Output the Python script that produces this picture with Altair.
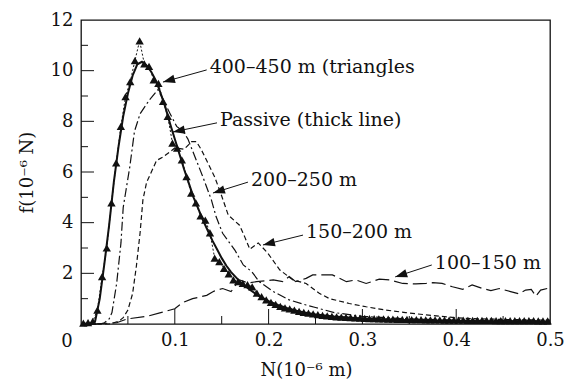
import math
import altair as alt
import pandas as pd

W, H = 469, 304
XMAX, YMAX = 0.5, 12
FONT = "DejaVu Serif"
INK = "#111111"

# 400–450 m (triangles), sampled every 0.005 starting at 0.0025
tri_f = [0.03, 0.05, 0.1, 0.55, 1.87, 3.0, 4.78, 6.36, 7.8, 8.98,
         9.57, 10.4, 11.18, 10.27, 10.17, 9.64, 9.5, 8.79, 8.2, 7.14,
         6.94, 6.48, 5.82, 5.17, 4.78, 4.27, 4.1, 3.6, 2.6, 2.46,
         2.2, 1.98, 1.74, 1.67, 1.6, 1.55, 1.47, 1.22, 1.08, 0.95,
         0.85, 0.77, 0.7, 0.64, 0.6, 0.55, 0.5, 0.46, 0.43, 0.4,
         0.37, 0.34, 0.32, 0.3, 0.28, 0.27, 0.26, 0.25, 0.24, 0.23,
         0.22, 0.21, 0.21, 0.2, 0.2, 0.19, 0.19, 0.18, 0.18, 0.18,
         0.17, 0.17, 0.17, 0.16, 0.16, 0.16, 0.16, 0.15, 0.15, 0.15,
         0.15, 0.15, 0.14, 0.14, 0.14, 0.14, 0.14, 0.14, 0.13, 0.13,
         0.13, 0.13, 0.13, 0.13, 0.13, 0.13, 0.13, 0.12, 0.12, 0.12]
tri_n = [round(0.0025 + 0.005 * i, 4) for i in range(len(tri_f))]

# Passive (thick line)
pas_n = [0.0, 0.01, 0.015, 0.02, 0.025, 0.03, 0.035, 0.04, 0.045, 0.05,
         0.055, 0.06, 0.065, 0.07, 0.075, 0.08, 0.085, 0.09, 0.095, 0.1,
         0.105, 0.11, 0.115, 0.12, 0.125, 0.13, 0.135, 0.14, 0.145, 0.15,
         0.155, 0.16, 0.165, 0.17, 0.18, 0.19, 0.2, 0.21, 0.22, 0.23,
         0.24, 0.25, 0.27, 0.3, 0.35, 0.4, 0.45, 0.5]
pas_f = [0.0, 0.02, 0.1, 1.0, 2.4, 3.9, 5.6, 7.0, 8.2, 9.1,
         9.8, 10.25, 10.35, 10.2, 9.95, 9.6, 9.1, 8.55, 7.9, 7.3,
         6.7, 6.1, 5.55, 5.0, 4.55, 4.1, 3.7, 3.3, 2.95, 2.6,
         2.3, 2.05, 1.85, 1.65, 1.35, 1.1, 0.9, 0.75, 0.62, 0.52,
         0.44, 0.38, 0.3, 0.22, 0.15, 0.12, 0.1, 0.09]

# 200–250 m (dash-dot)
dd_n = [0.0, 0.02, 0.025, 0.03, 0.033, 0.038, 0.0426, 0.045, 0.052, 0.057,
        0.063, 0.073, 0.082, 0.0876, 0.095, 0.102, 0.109, 0.114, 0.12, 0.13,
        0.139, 0.144, 0.151, 0.164, 0.173, 0.182, 0.19, 0.205, 0.222, 0.24,
        0.25, 0.27, 0.3, 0.35, 0.4, 0.45, 0.5]
dd_f = [0.0, 0.0, 0.05, 0.2, 0.45, 1.6, 3.2, 4.6, 6.2, 7.6,
        8.3, 8.85, 9.25, 8.85, 8.3, 7.8, 7.6, 7.3, 6.74, 5.8,
        4.9, 4.24, 3.58, 2.92, 2.33, 2.07, 1.67, 1.28, 0.95, 0.75,
        0.65, 0.45, 0.3, 0.2, 0.15, 0.13, 0.12]

# 150–200 m (short dashes)
sd_n = [0.0, 0.03, 0.04, 0.045, 0.05, 0.055, 0.059, 0.063, 0.066, 0.07,
        0.075, 0.0805, 0.0876, 0.095, 0.1, 0.11, 0.118, 0.123, 0.128, 0.134,
        0.1426, 0.15, 0.157, 0.163, 0.169, 0.175, 0.18, 0.189, 0.199, 0.212,
        0.226, 0.24, 0.254, 0.265, 0.286, 0.304, 0.325, 0.346, 0.368, 0.39,
        0.41, 0.45, 0.5]
sd_f = [0.0, 0.0, 0.1, 0.25, 0.55, 1.2, 2.27, 3.6, 4.9, 5.6,
        6.0, 6.45, 6.6, 6.8, 6.95, 6.9, 7.2, 7.2, 6.9, 6.45,
        5.8, 5.05, 4.3, 4.1, 3.9, 3.4, 2.95, 3.2, 2.8, 2.13,
        1.74, 1.6, 1.21, 1.0, 0.81, 0.68, 0.55, 0.45, 0.36, 0.28,
        0.22, 0.18, 0.15]

# 100–150 m (long dashes)
ld_n = [0.013, 0.038, 0.049, 0.07, 0.085, 0.1, 0.105, 0.11, 0.119, 0.127,
        0.134, 0.142, 0.151, 0.16, 0.169, 0.178, 0.187, 0.196, 0.205, 0.215,
        0.222, 0.229, 0.24, 0.247, 0.268, 0.283, 0.293, 0.304, 0.318, 0.329,
        0.343, 0.357, 0.368, 0.375, 0.385, 0.396, 0.407, 0.417, 0.428, 0.437,
        0.446, 0.458, 0.467, 0.474, 0.48, 0.485, 0.49, 0.497]
ld_f = [0.0, 0.05, 0.2, 0.3, 0.45, 0.6, 0.75, 0.87, 1.0, 1.07,
        1.13, 1.3, 1.4, 1.28, 1.74, 1.62, 1.67, 1.7, 1.74, 1.67,
        1.87, 1.67, 1.8, 1.94, 1.94, 1.67, 1.74, 1.6, 1.77, 1.74,
        1.6, 1.58, 1.6, 1.63, 1.6, 1.47, 1.37, 1.54, 1.4, 1.32,
        1.4, 1.28, 1.19, 1.34, 1.37, 1.1, 1.34, 1.4]

# annotations
ann_text = ["400–450 m (triangles", "Passive (thick line)", "200–250 m",
            "150–200 m", "100–150 m"]
ann_tail_n = [0.134, 0.145, 0.178, 0.2367, 0.374]
ann_tail_f = [10.03, 7.94, 5.6, 3.51, 2.33]
ann_tip_n = [0.0874, 0.098, 0.1407, 0.194, 0.335]
ann_tip_f = [9.55, 7.58, 5.17, 3.12, 1.86]
ann_text_f = [10.15, 8.05, 5.68, 3.63, 2.41]

y_major = [2, 4, 6, 8, 10]
y_minor = [1, 3, 5, 7, 9, 11]
x_major = [0.1, 0.2, 0.3, 0.4]
x_minor = [0.05, 0.15, 0.25, 0.35, 0.45]
x_labels = [0, 0.1, 0.2, 0.3, 0.4, 0.5]
y_labels = [2, 4, 6, 8, 10, 12]

xs = alt.Scale(domain=[0, XMAX], nice=False, zero=False)
ys = alt.Scale(domain=[0, YMAX], nice=False, zero=False)

x_axis = alt.Axis(values=x_labels, ticks=False, domain=False, grid=False,
                  labelExpr="datum.value == 0 ? '' : datum.label",
                  labelFont=FONT, labelFontSize=18, labelColor=INK,
                  labelPadding=7, labelFlush=False,
                  title="N(10⁻⁶ m)", titleFont=FONT, titleFontSize=18,
                  titleFontWeight="normal", titleColor=INK,
                  titleX=225, titleY=46, titleBaseline="middle", titleAlign="center")
y_axis = alt.Axis(values=y_labels, ticks=False, domain=False, grid=False,
                  labelFont=FONT, labelFontSize=18, labelColor=INK,
                  labelPadding=8,
                  title="f(10⁻⁶ N)", titleFont=FONT, titleFontSize=18,
                  titleFontWeight="normal", titleColor=INK,
                  titleX=-54, titleY=152, titleBaseline="middle", titleAlign="center")


def df(n, f):
    return pd.DataFrame({"n": n, "f": f})


def X(field="n"):
    return alt.X(f"{field}:Q", scale=xs, axis=x_axis)


def Y(field="f"):
    return alt.Y(f"{field}:Q", scale=ys, axis=y_axis)


passive = alt.Chart(df(pas_n, pas_f)).mark_line(color=INK, strokeWidth=2).encode(
    x=X(), y=Y())
tri_line = alt.Chart(df(tri_n, tri_f)).mark_line(
    color=INK, strokeWidth=1, strokeDash=[2, 2]).encode(x=X(), y=Y())
tri_pts = alt.Chart(df(tri_n, tri_f)).mark_point(
    shape="triangle-up", filled=True, color=INK, size=70, opacity=1).encode(x=X(), y=Y())
dd = alt.Chart(df(dd_n, dd_f)).mark_line(
    color=INK, strokeWidth=1.2, strokeDash=[9, 3, 2, 3]).encode(x=X(), y=Y())
sd = alt.Chart(df(sd_n, sd_f)).mark_line(
    color=INK, strokeWidth=1.2, strokeDash=[5, 3]).encode(x=X(), y=Y())
ld = alt.Chart(df(ld_n, ld_f)).mark_line(
    color=INK, strokeWidth=1.2, strokeDash=[14, 5]).encode(x=X(), y=Y())

# arrow geometry
angles = []
for tn, tf, hn, hf in zip(ann_tail_n, ann_tail_f, ann_tip_n, ann_tip_f):
    dx = (hn - tn) * W / XMAX
    dy = -(hf - tf) * H / YMAX
    theta = math.degrees(math.atan2(dy, -dx))
    angles.append((360 - theta) % 360)

ann = pd.DataFrame({"text": ann_text, "tn": ann_tail_n, "tf": ann_tail_f,
                    "hn": ann_tip_n, "hf": ann_tip_f, "yf": ann_text_f,
                    "ang": angles})

arrow_lines = alt.Chart(ann).mark_rule(color=INK, strokeWidth=1).encode(
    x=X("tn"), y=Y("tf"), x2="hn:Q", y2="hf:Q")
arrow_heads = alt.Chart(ann).mark_point(
    shape="M0,0L2,-0.7L2,0.7Z", filled=True, color=INK, size=144, opacity=1,
    strokeWidth=0).encode(
    x=X("hn"), y=Y("hf"), angle=alt.Angle("ang:Q", scale=None))
labels = alt.Chart(ann).mark_text(
    align="left", baseline="middle", dx=3, font=FONT, fontSize=19, color=INK).encode(
    x=X("tn"), y=Y("yf"), text="text:N")

# inward ticks
ymaj = alt.Chart(pd.DataFrame({"v": y_major})).mark_rule(color=INK, strokeWidth=1).encode(
    y=Y("v"), x=alt.value(0), x2=alt.value(13))
ymin = alt.Chart(pd.DataFrame({"v": y_minor})).mark_rule(color=INK, strokeWidth=1).encode(
    y=Y("v"), x=alt.value(0), x2=alt.value(7))
xmaj = alt.Chart(pd.DataFrame({"v": x_major})).mark_rule(color=INK, strokeWidth=1).encode(
    x=X("v"), y=alt.value(H), y2=alt.value(H - 15))
xmin = alt.Chart(pd.DataFrame({"v": x_minor})).mark_rule(color=INK, strokeWidth=1).encode(
    x=X("v"), y=alt.value(H), y2=alt.value(H - 8))

origin = alt.Chart(pd.DataFrame({"n": [0], "f": [0], "t": ["0"]})).mark_text(
    font=FONT, fontSize=18, color=INK, dx=-14, dy=18).encode(
    x=X(), y=Y(), text="t:N")

chart = alt.layer(
    passive, ld, sd, dd, tri_line, tri_pts,
    arrow_lines, arrow_heads, labels,
    ymaj, ymin, xmaj, xmin, origin,
).properties(
    width=W, height=H,
    background="white",
    autosize=alt.AutoSizeParams(type="none"),
    padding={"left": 81, "top": 20, "right": 14, "bottom": 55},
).configure_view(
    stroke=INK, strokeWidth=1.3
)

chart.save("out.html", embed_options={"renderer": "svg", "actions": False})
